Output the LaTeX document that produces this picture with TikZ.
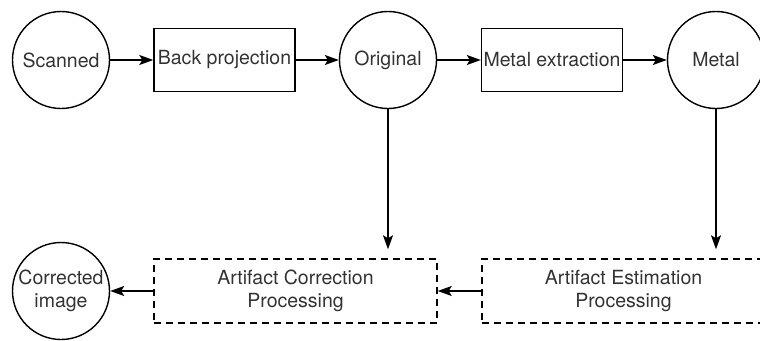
\documentclass[tikz,border=0pt]{standalone}
\usepackage{fontspec}
\setmainfont{TeX Gyre Heros}
\usetikzlibrary{arrows.meta}

\begin{document}
\begin{tikzpicture}[x=1pt,y=-1pt,line width=1.4pt]

        \useasboundingbox (0,0) rectangle (760,340);

        \begin{scope}[every node/.style={circle,draw,minimum size=97pt,inner sep=0pt,align=center,
            font=\fontsize{19.5}{23}\selectfont,text=black!80}]
          \node (1) at (61,60)  {Scanned};
          \node (3) at (388,60) {Original};
          \node (5) at (716,60) {Metal};
          \node (8) at (61,291) {Corrected\\image};
        \end{scope}

        \begin{scope}[every node/.style={draw,minimum width=141pt,minimum height=63pt,inner sep=0pt,
            font=\fontsize{19.5}{23}\selectfont,text=black!80}]
          \node (2) at (224.5,60) {Back projection};
          \node (4) at (552,60)   {Metal extraction};
        \end{scope}

        \begin{scope}[every node/.style={draw,dash pattern=on 7pt off 5pt,minimum width=283pt,
            minimum height=64pt,inner sep=0pt,align=center,
            font=\fontsize{19.5}{23}\selectfont,text=black!80}]
          \node (7) at (295.5,291) {Artifact Correction\\Processing};
          \node (6) at (623.5,291) {Artifact Estimation\\Processing};
        \end{scope}

        \begin{scope}[every edge/.style={draw,-{Stealth[length=14pt,width=10pt,inset=3pt]}}]
          \path (1) edge (2);
          \path (2) edge (3);
          \path (3) edge (4);
          \path (4) edge (5);
          \path (3) edge[shorten >=9pt] (3 |- 7.north);
          \path (5) edge[shorten >=9pt] (5 |- 6.north);
          \path (6) edge (7);
          \path (7) edge (8);
        \end{scope}

      \end{tikzpicture}
\end{document}
